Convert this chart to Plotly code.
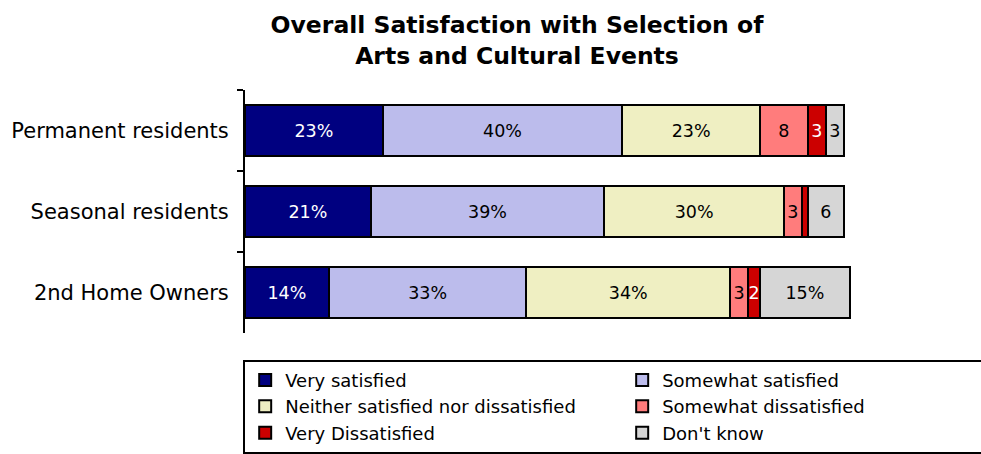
import plotly.graph_objects as go

categories = ["Permanent residents", "Seasonal residents", "2nd Home Owners"]
series_names = ["Very satisfied", "Somewhat satisfied",
                "Neither satisfied nor dissatisfied", "Somewhat dissatisfied",
                "Very Dissatisfied", "Don't know"]
very_satisfied = [23, 21, 14]
somewhat_satisfied = [40, 39, 33]
neither = [23, 30, 34]
somewhat_dissatisfied = [8, 3, 3]
very_dissatisfied = [3, 1, 2]
dont_know = [3, 6, 15]

values = [very_satisfied, somewhat_satisfied, neither,
          somewhat_dissatisfied, very_dissatisfied, dont_know]
colors = ["#000080", "#bcbcec", "#efefc2", "#ff7c7c", "#cc0000", "#d6d6d6"]
text_colors = ["white", "black", "black", "black", "white", "black"]

def label(v):
    if v >= 10:
        return f"{v}%"
    if v <= 1:
        return ""
    return str(v)

FONT = "DejaVu Sans"
fig = go.Figure()
for name, vals, col, tc in zip(series_names, values, colors, text_colors):
    fig.add_trace(go.Bar(
        name=name, y=categories, x=vals, orientation="h",
        marker=dict(color=col, line=dict(color="black", width=2)),
        text=[label(v) for v in vals], textposition="inside",
        insidetextanchor="middle", textangle=0,
        textfont=dict(color=tc, size=17.5, family=FONT),
        constraintext="none",
    ))

fig.update_layout(
    barmode="stack", bargap=0.36,
    width=981, height=454,
    margin=dict(l=245, r=130, t=90, b=121, autoexpand=False),
    paper_bgcolor="white", plot_bgcolor="white",
    font=dict(family=FONT, color="black"),
    title=dict(text="<b>Overall Satisfaction with Selection of<br>Arts and Cultural Events</b>",
               x=0.527, xref="container", xanchor="center",
               y=0.927, yref="container", yanchor="top",
               font=dict(size=23.5, family=FONT, color="black")),
    xaxis=dict(range=[0, 101.2], visible=False, fixedrange=True),
    yaxis=dict(autorange="reversed", showline=True, linecolor="black", linewidth=2,
               ticks="outside", ticklen=6, tickcolor="black", tickwidth=2,
               tickson="boundaries", tickfont=dict(size=21, family=FONT),
               ticklabelstandoff=10, showgrid=False),
    showlegend=True,
    legend=dict(orientation="h", x=-0.003, xanchor="left", y=-0.11, yanchor="top",
                entrywidth=332, entrywidthmode="pixels",
                font=dict(size=18, family=FONT), bordercolor="black", borderwidth=2,
                traceorder="normal", itemwidth=30, tracegroupgap=0),
)

fig.write_html("out.html", config={"displayModeBar": False},
               post_script="document.body.style.margin='0';")
